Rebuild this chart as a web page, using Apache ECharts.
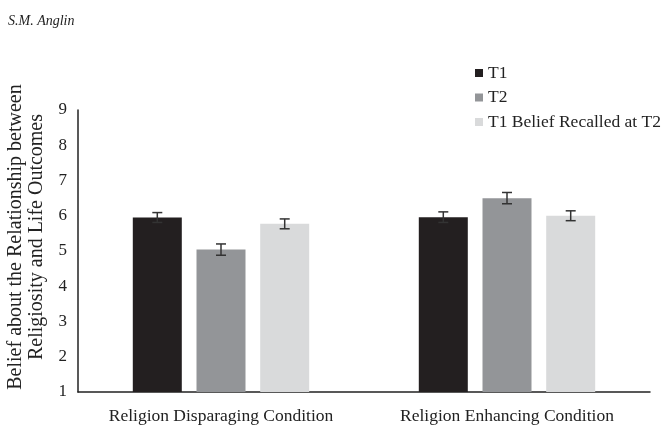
<!DOCTYPE html>
<html>
<head>
<meta charset="utf-8">
<script src="https://cdn.jsdelivr.net/npm/echarts@6/dist/echarts.min.js"></script>
<style>html,body{margin:0;padding:0;background:#fff}#c{width:665px;height:427px}</style>
</head>
<body>
<div id="c"></div>
<script>
var categories = ['Religion Disparaging Condition', 'Religion Enhancing Condition'];
var seriesNames = ['T1', 'T2', 'T1 Belief Recalled at T2'];
var t1Values = [5.95, 5.96];
var t2Values = [5.04, 6.50];
var recalledValues = [5.77, 6.00];
var t1Errors = [0.14, 0.15];
var t2Errors = [0.16, 0.16];
var recalledErrors = [0.14, 0.14];
var yTicks = [1, 2, 3, 4, 5, 6, 7, 8, 9];

var colors = ['#231f20', '#939598', '#d9dadb'];
var font = '"Liberation Serif", "Times New Roman", serif';
var allValues = [t1Values, t2Values, recalledValues];
var allErrors = [t1Errors, t2Errors, recalledErrors];

var chart = echarts.init(document.getElementById('c'));
var series = [];
seriesNames.forEach(function (name, i) {
  series.push({
    name: name, type: 'bar', data: allValues[i],
    barWidth: 49, barGap: '30%', barCategoryGap: '38%',
    itemStyle: { color: colors[i] }
  });
});
seriesNames.forEach(function (name, i) {
  series.push({
    type: 'custom', name: name + ' err',
    z: 10,
    data: allValues[i].map(function (v, j) { return [j, v - allErrors[i][j], v + allErrors[i][j]]; }),
    encode: { x: 0, y: [1, 2] },
    renderItem: function (params, api) {
      var idx = api.value(0);
      var lo = api.coord([idx, api.value(1)]);
      var hi = api.coord([idx, api.value(2)]);
      var offset = (i - 1) * (49 + 14.7);
      var x = lo[0] + offset;
      var cap = 5;
      var st = { stroke: '#333', lineWidth: 1.5 };
      return { type: 'group', children: [
        { type: 'line', shape: { x1: x, y1: lo[1], x2: x, y2: hi[1] }, style: st },
        { type: 'line', shape: { x1: x - cap, y1: lo[1], x2: x + cap, y2: lo[1] }, style: st },
        { type: 'line', shape: { x1: x - cap, y1: hi[1], x2: x + cap, y2: hi[1] }, style: st }
      ]};
    },
    silent: true
  });
});

chart.setOption({
  animation: false,
  backgroundColor: '#fff',
  title: {
    text: 'S.M. Anglin', left: 3, top: 9,
    textStyle: { fontFamily: font, fontStyle: 'italic', fontWeight: 'normal', fontSize: 14, color: '#222' }
  },
  legend: {
    data: seriesNames, orient: 'vertical', left: 470, top: 59,
    itemWidth: 8, itemHeight: 8, itemGap: 6.5, icon: 'rect',
    textStyle: { fontFamily: font, fontSize: 17.5, color: '#222', lineHeight: 18 }
  },
  grid: { left: 78, right: 15, top: 110, bottom: 35, outerBoundsMode: 'none', containLabel: false },
  xAxis: {
    type: 'category', data: categories,
    axisLine: { lineStyle: { color: '#222', width: 1.5 } },
    axisTick: { show: false },
    axisLabel: { interval: 0, hideOverlap: false, fontFamily: font, fontSize: 17.5, color: '#222', margin: 15 }
  },
  yAxis: {
    type: 'value', min: yTicks[0], max: yTicks[yTicks.length - 1], interval: 1,
    name: 'Belief about the Relationship between\nReligiosity and Life Outcomes',
    nameLocation: 'middle', nameGap: 24, nameRotate: 90,
    nameTextStyle: { fontFamily: font, fontSize: 20, color: '#222', lineHeight: 21, padding: [6, 0, 0, 28] },
    axisLine: { show: true, lineStyle: { color: '#222', width: 1.5 } },
    axisTick: { show: false },
    splitLine: { show: false },
    axisLabel: { fontFamily: font, fontSize: 17, color: '#222', margin: 11 }
  },
  series: series
});
</script>
</body>
</html>
